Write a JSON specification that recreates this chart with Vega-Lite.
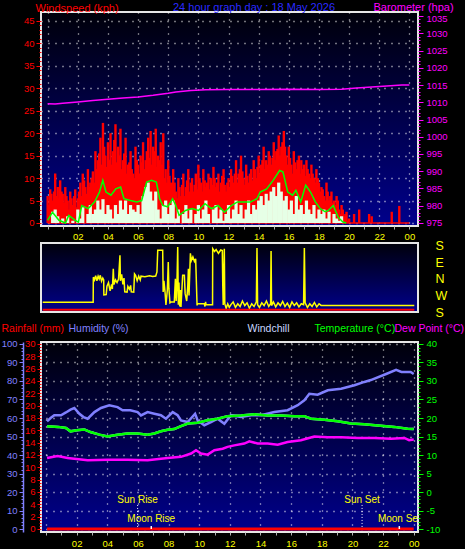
{
  "$schema": "https://vega.github.io/schema/vega-lite/v6.json",
  "background": "black",
  "padding": 0,
  "autosize": {"type": "pad"},
  "spacing": 2,
  "config": {
    "font": "Liberation Sans",
    "view": {"stroke": "#e6e6e6", "strokeWidth": 2, "fill": {"gradient": "linear", "x1": 0, "y1": 0, "x2": 0, "y2": 1, "stops": [{"offset": 0, "color": "#00000a"}, {"offset": 1, "color": "#00008c"}]}},
    "axis": {"labelFont": "Liberation Sans", "titleFont": "Liberation Sans", "titleFontWeight": "normal", "labelFontSize": 9.5, "titleFontSize": 11, "domain": false, "grid": false, "labelOverlap": false, "labelBound": false, "labelFlush": false}
  },
  "datasets": {
    "gust": [
      {"h":0,"kph":6},{"h":0.17,"kph":7.5},{"h":0.33,"kph":5},{"h":0.5,"kph":11},{"h":0.67,"kph":8},{"h":0.83,"kph":9.5},{"h":1,"kph":6.5},{"h":1.17,"kph":8},{"h":1.33,"kph":5},{"h":1.5,"kph":7},{"h":1.67,"kph":4},{"h":1.83,"kph":7.5},
      {"h":2,"kph":5.5},{"h":2.17,"kph":9},{"h":2.33,"kph":11},{"h":2.5,"kph":8},{"h":2.67,"kph":12},{"h":2.83,"kph":9},{"h":3,"kph":11.5},{"h":3.17,"kph":16},{"h":3.33,"kph":14},{"h":3.5,"kph":19},{"h":3.67,"kph":22.3},{"h":3.83,"kph":15},
      {"h":4,"kph":18},{"h":4.17,"kph":20},{"h":4.33,"kph":16},{"h":4.5,"kph":22},{"h":4.67,"kph":17},{"h":4.83,"kph":21},{"h":5,"kph":14},{"h":5.17,"kph":19},{"h":5.33,"kph":13},{"h":5.5,"kph":16},{"h":5.67,"kph":11},{"h":5.83,"kph":17},
      {"h":6,"kph":13},{"h":6.17,"kph":15},{"h":6.33,"kph":18},{"h":6.5,"kph":14},{"h":6.67,"kph":19},{"h":6.83,"kph":20.5},{"h":7,"kph":17},{"h":7.17,"kph":21},{"h":7.33,"kph":15},{"h":7.5,"kph":18},{"h":7.67,"kph":20},{"h":7.83,"kph":12},
      {"h":8,"kph":14},{"h":8.17,"kph":9},{"h":8.33,"kph":12},{"h":8.5,"kph":7},{"h":8.67,"kph":10},{"h":8.83,"kph":6},{"h":9,"kph":11},{"h":9.17,"kph":8},{"h":9.33,"kph":12},{"h":9.5,"kph":9},{"h":9.67,"kph":7},{"h":9.83,"kph":11},
      {"h":10,"kph":13},{"h":10.17,"kph":9},{"h":10.33,"kph":12},{"h":10.5,"kph":8},{"h":10.67,"kph":11},{"h":10.83,"kph":10},{"h":11,"kph":12.5},{"h":11.17,"kph":8},{"h":11.33,"kph":11},{"h":11.5,"kph":9},{"h":11.67,"kph":12},{"h":11.83,"kph":7},
      {"h":12,"kph":10},{"h":12.17,"kph":12},{"h":12.33,"kph":9},{"h":12.5,"kph":14},{"h":12.67,"kph":11},{"h":12.83,"kph":15},{"h":13,"kph":10},{"h":13.17,"kph":13},{"h":13.33,"kph":9},{"h":13.5,"kph":12},{"h":13.67,"kph":14},{"h":13.83,"kph":10},
      {"h":14,"kph":15},{"h":14.17,"kph":13},{"h":14.33,"kph":17},{"h":14.5,"kph":14},{"h":14.67,"kph":16},{"h":14.83,"kph":13},{"h":15,"kph":18},{"h":15.17,"kph":16},{"h":15.33,"kph":19.5},{"h":15.5,"kph":17},{"h":15.67,"kph":20.5},{"h":15.83,"kph":15},
      {"h":16,"kph":17},{"h":16.17,"kph":13},{"h":16.33,"kph":16},{"h":16.5,"kph":12},{"h":16.67,"kph":15},{"h":16.83,"kph":14},{"h":17,"kph":13},{"h":17.17,"kph":14},{"h":17.33,"kph":11},{"h":17.5,"kph":13},{"h":17.67,"kph":10},{"h":17.83,"kph":12},
      {"h":18,"kph":9},{"h":18.17,"kph":8},{"h":18.33,"kph":6},{"h":18.5,"kph":9},{"h":18.67,"kph":5},{"h":18.83,"kph":7},{"h":19,"kph":5},{"h":19.17,"kph":6},{"h":19.33,"kph":3},{"h":19.5,"kph":4},{"h":19.67,"kph":1.5},{"h":19.83,"kph":2.5},
      {"h":20,"kph":1},{"h":20.33,"kph":2},{"h":20.67,"kph":3},{"h":21.33,"kph":2},{"h":21.5,"kph":1.5},{"h":22.83,"kph":2.5},{"h":23.33,"kph":3.8},
      {"h":0.08,"kph":4},{"h":0.25,"kph":6.5},{"h":0.42,"kph":7},{"h":0.58,"kph":6},{"h":0.75,"kph":5.5},{"h":0.92,"kph":7},{"h":1.08,"kph":4.5},{"h":1.25,"kph":6},{"h":1.42,"kph":3},{"h":1.58,"kph":5.5},{"h":1.75,"kph":6},{"h":1.92,"kph":3.5},
      {"h":2.08,"kph":7},{"h":2.25,"kph":6},{"h":2.42,"kph":9.5},{"h":2.58,"kph":6.5},{"h":2.75,"kph":8},{"h":2.92,"kph":10},{"h":3.08,"kph":9},{"h":3.25,"kph":12},{"h":3.42,"kph":15.5},{"h":3.58,"kph":13},{"h":3.75,"kph":17},{"h":3.92,"kph":12.5},
      {"h":4.08,"kph":14},{"h":4.25,"kph":13},{"h":4.42,"kph":18.5},{"h":4.58,"kph":13.5},{"h":4.75,"kph":15},{"h":4.92,"kph":12},{"h":5.08,"kph":15.5},{"h":5.25,"kph":11},{"h":5.42,"kph":13.5},{"h":5.58,"kph":12},{"h":5.75,"kph":10},{"h":5.92,"kph":14},
      {"h":6.08,"kph":11},{"h":6.25,"kph":13.5},{"h":6.42,"kph":12},{"h":6.58,"kph":16},{"h":6.75,"kph":14.5},{"h":6.92,"kph":13},{"h":7.08,"kph":16},{"h":7.25,"kph":12.5},{"h":7.42,"kph":14},{"h":7.58,"kph":13},{"h":7.75,"kph":10},{"h":7.92,"kph":9},
      {"h":8.08,"kph":10.5},{"h":8.25,"kph":7},{"h":8.42,"kph":9},{"h":8.58,"kph":5.5},{"h":8.75,"kph":8},{"h":8.92,"kph":8.5},{"h":9.08,"kph":6},{"h":9.25,"kph":9.5},{"h":9.42,"kph":7},{"h":9.58,"kph":10},{"h":9.75,"kph":8.5},{"h":9.92,"kph":7.5},
      {"h":10.08,"kph":10},{"h":10.25,"kph":7},{"h":10.42,"kph":9.5},{"h":10.58,"kph":9},{"h":10.75,"kph":7.5},{"h":10.92,"kph":8.5},{"h":11.08,"kph":10},{"h":11.25,"kph":9},{"h":11.42,"kph":7},{"h":11.58,"kph":10.5},{"h":11.75,"kph":8.5},{"h":11.92,"kph":9},
      {"h":12.08,"kph":8},{"h":12.25,"kph":10.5},{"h":12.42,"kph":11},{"h":12.58,"kph":9},{"h":12.75,"kph":12},{"h":12.92,"kph":11.5},{"h":13.08,"kph":8.5},{"h":13.25,"kph":10.5},{"h":13.42,"kph":11},{"h":13.58,"kph":9.5},{"h":13.75,"kph":12},{"h":13.92,"kph":12.5},
      {"h":14.08,"kph":11},{"h":14.25,"kph":14},{"h":14.42,"kph":12},{"h":14.58,"kph":13},{"h":14.75,"kph":15},{"h":14.92,"kph":14.5},{"h":15.08,"kph":14},{"h":15.25,"kph":16.5},{"h":15.42,"kph":15},{"h":15.58,"kph":18},{"h":15.75,"kph":17},{"h":15.92,"kph":13},
      {"h":16.08,"kph":14.5},{"h":16.25,"kph":11},{"h":16.42,"kph":13.5},{"h":16.58,"kph":14},{"h":16.75,"kph":11},{"h":16.92,"kph":12},{"h":17.08,"kph":10.5},{"h":17.25,"kph":12},{"h":17.42,"kph":10},{"h":17.58,"kph":11},{"h":17.75,"kph":9},{"h":17.92,"kph":10},
      {"h":18.08,"kph":7},{"h":18.25,"kph":7.5},{"h":18.42,"kph":5},{"h":18.58,"kph":7},{"h":18.75,"kph":6},{"h":18.92,"kph":4.5},{"h":19.08,"kph":4},{"h":19.25,"kph":5},{"h":19.42,"kph":2},{"h":19.58,"kph":3},{"h":19.75,"kph":2},{"h":19.92,"kph":0.5}
    ],
    "gustBase": [{"h":0,"kph":0},{"h":24,"kph":0}],
    "avgBars": [
      {"h":0.33,"kph":2.5},{"h":0.5,"kph":3},{"h":0.67,"kph":1.5},{"h":1,"kph":1},{"h":1.33,"kph":1.5},{"h":1.67,"kph":0.5},
      {"h":2,"kph":3},{"h":2.17,"kph":1},{"h":2.33,"kph":3.5},{"h":2.67,"kph":2},{"h":2.83,"kph":4},{"h":3,"kph":2},{"h":3.17,"kph":3},{"h":3.33,"kph":5},{"h":3.5,"kph":3},{"h":3.67,"kph":5.3},{"h":3.83,"kph":2},
      {"h":4,"kph":4},{"h":4.17,"kph":3},{"h":4.33,"kph":1},{"h":4.5,"kph":4},{"h":4.67,"kph":2},{"h":4.83,"kph":5},{"h":5,"kph":3},{"h":5.17,"kph":5},{"h":5.33,"kph":2},{"h":5.5,"kph":4},{"h":5.67,"kph":3},{"h":5.83,"kph":2.5},
      {"h":6,"kph":4},{"h":6.17,"kph":2},{"h":6.33,"kph":6},{"h":6.5,"kph":8},{"h":6.67,"kph":9},{"h":6.83,"kph":7},{"h":7,"kph":5},{"h":7.17,"kph":7},{"h":7.33,"kph":3},{"h":7.5,"kph":1},{"h":7.67,"kph":4},{"h":7.83,"kph":5},
      {"h":8,"kph":2},{"h":8.17,"kph":4},{"h":8.33,"kph":5},{"h":8.5,"kph":1},{"h":8.67,"kph":3},{"h":9,"kph":2},{"h":9.17,"kph":4},{"h":9.33,"kph":1},{"h":9.5,"kph":3},{"h":9.83,"kph":2},
      {"h":10,"kph":4},{"h":10.17,"kph":1},{"h":10.33,"kph":3},{"h":10.5,"kph":5},{"h":10.67,"kph":2},{"h":11,"kph":3},{"h":11.17,"kph":4},{"h":11.33,"kph":1},{"h":11.5,"kph":3},{"h":11.67,"kph":0.5},{"h":11.83,"kph":2},
      {"h":12,"kph":4},{"h":12.17,"kph":1},{"h":12.33,"kph":3},{"h":12.5,"kph":5},{"h":12.67,"kph":2},{"h":12.83,"kph":4},{"h":13,"kph":1},{"h":13.17,"kph":3},{"h":13.33,"kph":5},{"h":13.5,"kph":2},{"h":13.67,"kph":4},{"h":13.83,"kph":3},
      {"h":14,"kph":5},{"h":14.17,"kph":6},{"h":14.33,"kph":4},{"h":14.5,"kph":6.5},{"h":14.67,"kph":5},{"h":14.83,"kph":7},{"h":15,"kph":8},{"h":15.17,"kph":6},{"h":15.33,"kph":9},{"h":15.5,"kph":7},{"h":15.67,"kph":5},{"h":15.83,"kph":6},
      {"h":16,"kph":3},{"h":16.17,"kph":5},{"h":16.33,"kph":2},{"h":16.5,"kph":6},{"h":16.67,"kph":3},{"h":16.83,"kph":4},{"h":17,"kph":2},{"h":17.17,"kph":5},{"h":17.33,"kph":3},{"h":17.5,"kph":2},{"h":17.67,"kph":4},{"h":17.83,"kph":1},
      {"h":18,"kph":3},{"h":18.17,"kph":2},{"h":18.33,"kph":3},{"h":18.5,"kph":1},{"h":18.67,"kph":2.5},{"h":19,"kph":2},{"h":19.17,"kph":1},{"h":19.33,"kph":0.5},{"h":19.5,"kph":1.5}
    ],
    "avgLine": [
      {"h":0,"kph":0.6},{"h":0.32,"kph":2.4},{"h":0.75,"kph":0.6},{"h":1.18,"kph":0},{"h":1.4,"kph":1.7},{"h":1.83,"kph":0.6},{"h":2.04,"kph":0.2},{"h":2.26,"kph":3.9},{"h":2.69,"kph":3.2},{"h":3.12,"kph":4.7},{"h":3.44,"kph":6.9},{"h":3.66,"kph":9.5},{"h":3.87,"kph":6.9},
      {"h":4.2,"kph":6.2},{"h":4.52,"kph":7.6},{"h":4.84,"kph":8},{"h":5.06,"kph":5.4},{"h":5.49,"kph":5},{"h":5.92,"kph":4.7},{"h":6.24,"kph":5},{"h":6.57,"kph":9.1},{"h":6.89,"kph":9.5},{"h":7.21,"kph":9.1},{"h":7.43,"kph":5.4},{"h":7.64,"kph":3.9},{"h":7.96,"kph":3.6},
      {"h":8.29,"kph":5.4},{"h":8.5,"kph":3.9},{"h":8.72,"kph":1.7},{"h":9.15,"kph":2.8},{"h":9.58,"kph":3.2},{"h":10.01,"kph":2.8},{"h":10.44,"kph":4.3},{"h":10.87,"kph":3.2},{"h":11.3,"kph":3.9},{"h":11.73,"kph":2.4},{"h":12.16,"kph":3.8},{"h":12.59,"kph":4.7},
      {"h":13.03,"kph":4.7},{"h":13.46,"kph":4.7},{"h":13.89,"kph":5.4},{"h":14.1,"kph":6.9},{"h":14.53,"kph":7.6},{"h":14.96,"kph":9.5},{"h":15.39,"kph":11.7},{"h":15.61,"kph":11.4},{"h":15.93,"kph":6.9},{"h":16.25,"kph":6.2},{"h":16.47,"kph":7.3},{"h":16.79,"kph":4.7},
      {"h":17.12,"kph":8.4},{"h":17.44,"kph":6.9},{"h":17.76,"kph":4.7},{"h":18.09,"kph":3.2},{"h":18.41,"kph":2.5},{"h":18.62,"kph":2.8},{"h":18.95,"kph":3.9},{"h":19.27,"kph":1.3},{"h":19.59,"kph":0.2},{"h":19.81,"kph":0}
    ],
    "baro": [
      {"h":0,"hpa":1009.6},{"h":0.5,"hpa":1009.5},{"h":1,"hpa":1009.7},{"h":2,"hpa":1010.1},{"h":3,"hpa":1010.5},{"h":4,"hpa":1010.9},{"h":5,"hpa":1011.2},{"h":6,"hpa":1011.5},{"h":7,"hpa":1012},{"h":8,"hpa":1012.6},{"h":8.5,"hpa":1013},{"h":9.5,"hpa":1013.4},
      {"h":10.5,"hpa":1013.6},{"h":12,"hpa":1013.7},{"h":14,"hpa":1013.7},{"h":16,"hpa":1013.8},{"h":18,"hpa":1013.7},{"h":19.5,"hpa":1013.8},{"h":20.5,"hpa":1014.1},{"h":21.5,"hpa":1014.4},{"h":22.5,"hpa":1014.7},{"h":23.5,"hpa":1015},{"h":24,"hpa":1015}
    ],
    "dir": [
      {"h":0,"dir":53},{"h":3.26,"dir":53},{"h":3.27,"dir":190},{"h":3.35,"dir":175},{"h":3.42,"dir":198},{"h":3.5,"dir":170},{"h":3.58,"dir":195},{"h":3.65,"dir":180},{"h":3.72,"dir":200},{"h":3.8,"dir":168},{"h":3.88,"dir":185},{"h":3.94,"dir":175},
      {"h":3.95,"dir":93},{"h":4.1,"dir":95},{"h":4.15,"dir":140},{"h":4.25,"dir":160},{"h":4.35,"dir":115},{"h":4.45,"dir":150},{"h":4.5,"dir":125},{"h":4.56,"dir":236},{"h":4.6,"dir":150},{"h":4.7,"dir":175},{"h":4.8,"dir":160},{"h":4.9,"dir":180},
      {"h":4.99,"dir":309},{"h":5.02,"dir":170},{"h":5.1,"dir":205},{"h":5.18,"dir":150},{"h":5.25,"dir":185},{"h":5.3,"dir":110},{"h":5.45,"dir":108},{"h":5.5,"dir":140},{"h":5.6,"dir":125},{"h":5.68,"dir":145},{"h":5.72,"dir":110},{"h":5.88,"dir":108},
      {"h":5.93,"dir":208},{"h":6,"dir":200},{"h":6.1,"dir":170},{"h":6.2,"dir":195},{"h":6.3,"dir":175},{"h":6.35,"dir":195},{"h":6.6,"dir":192},{"h":6.9,"dir":198},{"h":7.1,"dir":193},{"h":7.3,"dir":196},{"h":7.38,"dir":218},{"h":7.43,"dir":336},
      {"h":7.75,"dir":336},{"h":7.78,"dir":109},{"h":7.83,"dir":170},{"h":7.9,"dir":110},{"h":7.96,"dir":38},{"h":8.05,"dir":120},{"h":8.11,"dir":272},{"h":8.15,"dir":130},{"h":8.22,"dir":50},{"h":8.28,"dir":54},{"h":8.5,"dir":54},{"h":8.57,"dir":181},
      {"h":8.62,"dir":60},{"h":8.67,"dir":150},{"h":8.72,"dir":354},{"h":8.76,"dir":40},{"h":8.8,"dir":160},{"h":8.85,"dir":30},{"h":8.9,"dir":120},{"h":8.93,"dir":27},{"h":9.04,"dir":200},{"h":9.15,"dir":200},{"h":9.2,"dir":100},{"h":9.3,"dir":60},
      {"h":9.37,"dir":140},{"h":9.41,"dir":236},{"h":9.45,"dir":90},{"h":9.54,"dir":320},{"h":9.6,"dir":280},{"h":9.7,"dir":300},{"h":9.8,"dir":275},{"h":9.88,"dir":290},{"h":9.9,"dir":236},{"h":9.97,"dir":36},{"h":10,"dir":45},{"h":10.44,"dir":45},
      {"h":10.48,"dir":30},{"h":10.52,"dir":55},{"h":10.55,"dir":40},{"h":10.97,"dir":40},{"h":10.98,"dir":345},{"h":11.1,"dir":330},{"h":11.2,"dir":340},{"h":11.35,"dir":320},{"h":11.5,"dir":338},{"h":11.6,"dir":335},{"h":11.63,"dir":147},{"h":11.66,"dir":38},
      {"h":11.73,"dir":345},{"h":11.76,"dir":45},{"h":11.85,"dir":20},{"h":11.95,"dir":45},{"h":12.05,"dir":25},{"h":12.16,"dir":40},{"h":12.3,"dir":55},{"h":12.45,"dir":25},{"h":12.6,"dir":45},{"h":12.75,"dir":30},{"h":12.9,"dir":60},{"h":13.05,"dir":35},
      {"h":13.2,"dir":50},{"h":13.35,"dir":20},{"h":13.5,"dir":45},{"h":13.65,"dir":30},{"h":13.8,"dir":55},{"h":13.84,"dir":349},{"h":13.88,"dir":40},{"h":14,"dir":25},{"h":14.15,"dir":50},{"h":14.3,"dir":35},{"h":14.45,"dir":60},{"h":14.6,"dir":30},
      {"h":14.72,"dir":45},{"h":14.75,"dir":332},{"h":14.78,"dir":35},{"h":14.9,"dir":55},{"h":15.05,"dir":28},{"h":15.2,"dir":50},{"h":15.35,"dir":35},{"h":15.5,"dir":58},{"h":15.65,"dir":30},{"h":15.8,"dir":48},{"h":15.95,"dir":25},{"h":16.1,"dir":55},
      {"h":16.25,"dir":35},{"h":16.4,"dir":50},{"h":16.55,"dir":28},{"h":16.7,"dir":45},{"h":16.85,"dir":40},{"h":16.9,"dir":349},{"h":16.95,"dir":50},{"h":17.1,"dir":25},{"h":17.25,"dir":45},{"h":17.4,"dir":30},{"h":17.55,"dir":52},{"h":17.7,"dir":28},
      {"h":17.85,"dir":45},{"h":17.98,"dir":36},{"h":24,"dir":36}
    ],
    "dirRed": [{"h":0,"dir":12},{"h":24,"dir":12}],
    "rain": [{"h":0.07,"mm":0},{"h":24,"mm":0}],
    "hum": [
      {"h":0.07,"pct":58.2},{"h":0.3,"pct":60},{"h":0.54,"pct":61.5},{"h":0.98,"pct":61.5},{"h":1.3,"pct":63},{"h":1.6,"pct":64.5},{"h":1.85,"pct":65.4},{"h":2.18,"pct":62.3},{"h":2.45,"pct":60.5},{"h":2.72,"pct":59.6},{"h":3.16,"pct":63.2},{"h":3.59,"pct":65.4},
      {"h":4.13,"pct":66.9},{"h":4.67,"pct":65.9},{"h":5,"pct":64.2},{"h":5.5,"pct":64.2},{"h":5.98,"pct":63.2},{"h":6.2,"pct":61.4},{"h":6.63,"pct":63.2},{"h":7.07,"pct":62.3},{"h":7.5,"pct":61.5},{"h":7.83,"pct":59.6},{"h":8.27,"pct":63.2},{"h":8.59,"pct":61.5},
      {"h":8.81,"pct":58.7},{"h":9.25,"pct":57.8},{"h":9.73,"pct":62.3},{"h":9.9,"pct":58.7},{"h":10.33,"pct":56.1},{"h":10.77,"pct":57.8},{"h":11.2,"pct":59.6},{"h":11.64,"pct":56.9},{"h":12.07,"pct":61.5},{"h":12.73,"pct":60.5},{"h":13.38,"pct":61.5},{"h":14.04,"pct":61.5},
      {"h":14.9,"pct":63.2},{"h":15.77,"pct":64.2},{"h":16.43,"pct":66.9},{"h":16.86,"pct":69.6},{"h":17.19,"pct":73.1},{"h":17.73,"pct":72.6},{"h":18.39,"pct":75},{"h":19.26,"pct":75.8},{"h":20.13,"pct":77.7},{"h":20.78,"pct":79.5},{"h":21.2,"pct":80.5},{"h":22.2,"pct":83.8},
      {"h":22.85,"pct":86},{"h":23.2,"pct":84.9},{"h":23.8,"pct":84.9},{"h":24,"pct":83.8}
    ],
    "temp": [
      {"h":0.07,"c":17.8},{"h":0.8,"c":17.6},{"h":1.3,"c":17.3},{"h":1.6,"c":16.4},{"h":2,"c":16.7},{"h":2.5,"c":16.9},{"h":2.9,"c":16.2},{"h":3.48,"c":15.5},{"h":4.02,"c":15},{"h":4.67,"c":15.5},{"h":5.32,"c":15.8},{"h":5.98,"c":15.8},
      {"h":6.63,"c":15.5},{"h":7.07,"c":15.8},{"h":7.5,"c":16.4},{"h":7.94,"c":16.8},{"h":8.37,"c":17},{"h":8.81,"c":17.8},{"h":9.25,"c":18.5},{"h":9.9,"c":18.7},{"h":10.55,"c":19.4},{"h":11.2,"c":19.8},{"h":11.85,"c":20.5},{"h":12.73,"c":20.7},
      {"h":13.6,"c":21},{"h":14.47,"c":20.7},{"h":15.34,"c":20.7},{"h":16.21,"c":20.5},{"h":16.86,"c":20.5},{"h":17.3,"c":19.8},{"h":18.17,"c":19.5},{"h":19.04,"c":19.1},{"h":19.91,"c":18.5},{"h":20.78,"c":18.3},{"h":21.65,"c":18},{"h":22.73,"c":17.6},
      {"h":23.6,"c":17.1},{"h":24,"c":17}
    ],
    "dew": [
      {"h":0.07,"c":9.2},{"h":0.76,"c":9.7},{"h":1.41,"c":9.2},{"h":2.72,"c":8.6},{"h":4.02,"c":8.7},{"h":5.32,"c":8.7},{"h":6.63,"c":8.6},{"h":7.94,"c":9.2},{"h":8.81,"c":9.5},{"h":9.47,"c":10.4},{"h":9.79,"c":11.3},{"h":10.12,"c":10.4},
      {"h":10.55,"c":10.1},{"h":10.99,"c":11.3},{"h":11.53,"c":11.7},{"h":11.85,"c":12.2},{"h":12.29,"c":12.6},{"h":12.94,"c":13.1},{"h":13.27,"c":13.7},{"h":13.81,"c":13.1},{"h":14.47,"c":13.1},{"h":15.12,"c":12.8},{"h":15.77,"c":13.5},{"h":16.64,"c":14},
      {"h":17.51,"c":15},{"h":18.39,"c":14.8},{"h":19.26,"c":14.8},{"h":20.35,"c":14.6},{"h":21.43,"c":14.6},{"h":22.52,"c":14.4},{"h":23.39,"c":14.6},{"h":23.7,"c":14},{"h":24,"c":14.2}
    ],
    "events": [
      {"event":"Sun Rise","h":5.98,"kind":"sun"},
      {"event":"Sun Set","h":20.63,"kind":"sun"},
      {"event":"Moon Rise","h":6.87,"kind":"moon"},
      {"event":"Moon Set","h":23.06,"kind":"moon"}
    ]
  },
  "vconcat": [
    {
      "bounds": "flush",
      "spacing": 17,
      "vconcat": [
        {
          "width": 377,
          "height": 214,
          "title": {"text": "24 hour graph day : 18 May 2026", "color": "#2a2aff", "fontSize": 11, "font": "Liberation Sans", "fontWeight": "normal", "anchor": "start", "frame": "group", "dx": 132, "offset": -12},
          "layer": [
            {
              "layer": [
                {
                  "data": {"name": "gust"},
                  "mark": {"type": "bar", "color": "#ff0000", "width": 2.4},
                  "encoding": {
                    "x": {"field": "h", "type": "quantitative", "scale": {"domain": [-0.11, 24.24], "nice": false, "zero": false},
                      "axis": {"values": [0,1,2,3,4,5,6,7,8,9,10,11,12,13,14,15,16,17,18,19,20,21,22,23,24], "tickCount": 200, "labelExpr": "datum.value > 0 && datum.value % 2 == 0 ? (datum.value % 24 < 10 ? '0' + (datum.value % 24) : '' + datum.value) : ''", "labelOverlap": false, "labelColor": "#ffff00", "labelPadding": 2, "tickSize": 3, "tickColor": "#b0b0b0", "grid": true, "gridColor": "#ffffff", "gridDash": [1, 6], "gridWidth": 1.3, "gridOpacity": {"condition": {"test": "datum.value % 2 != 0", "value": 0}, "value": 0.9}, "title": null}},
                    "y": {"field": "kph", "type": "quantitative", "scale": {"domain": [-0.67, 47], "nice": false, "zero": false},
                      "axis": {"orient": "left", "values": [0,1,2,3,4,5,6,7,8,9,10,11,12,13,14,15,16,17,18,19,20,21,22,23,24,25,26,27,28,29,30,31,32,33,34,35,36,37,38,39,40,41,42,43,44,45], "tickCount": 200, "labelExpr": "datum.value % 5 == 0 ? datum.value : ''", "labelOverlap": false, "labelColor": "#ff0000", "labelPadding": 2, "tickColor": "#ff0000", "tickSize": {"condition": {"test": "datum.value % 5 != 0", "value": 2}, "value": 5}, "grid": true, "gridColor": "#ffffff", "gridDash": [1, 6], "gridWidth": 1.3, "gridOpacity": {"condition": {"test": "datum.value % 5 != 0", "value": 0}, "value": 0.9},
                        "title": "Windspeed (kph)", "titleColor": "#ff0000", "titleAngle": 0, "titleAlign": "left", "titleBaseline": "middle", "titleX": -6, "titleY": -4}},
                    "y2": {"datum": 0}
                  }
                },
                {
                  "data": {"name": "gustBase"},
                  "mark": {"type": "line", "color": "#ff0000", "strokeWidth": 1.5},
                  "encoding": {"x": {"field": "h", "type": "quantitative"}, "y": {"field": "kph", "type": "quantitative"}}
                },
                {
                  "data": {"name": "avgBars"},
                  "mark": {"type": "bar", "color": "#e6ffe6", "width": 3.2},
                  "encoding": {"x": {"field": "h", "type": "quantitative"}, "y": {"field": "kph", "type": "quantitative"}, "y2": {"datum": 0}}
                },
                {
                  "data": {"name": "avgLine"},
                  "mark": {"type": "line", "color": "#00ff00", "strokeWidth": 1.5},
                  "encoding": {"x": {"field": "h", "type": "quantitative"}, "y": {"field": "kph", "type": "quantitative"}}
                }
              ]
            },
            {
              "data": {"name": "baro"},
              "mark": {"type": "line", "color": "#ff00ff", "strokeWidth": 1.5},
              "encoding": {
                "x": {"field": "h", "type": "quantitative"},
                "y": {"field": "hpa", "type": "quantitative", "scale": {"domain": [974.13, 1036.16], "nice": false, "zero": false},
                  "axis": {"orient": "right", "values": [975,976,977,978,979,980,981,982,983,984,985,986,987,988,989,990,991,992,993,994,995,996,997,998,999,1000,1001,1002,1003,1004,1005,1006,1007,1008,1009,1010,1011,1012,1013,1014,1015,1016,1017,1018,1019,1020,1021,1022,1023,1024,1025,1026,1027,1028,1029,1030,1031,1032,1033,1034,1035], "tickCount": 200, "labelExpr": "datum.value % 5 == 0 ? datum.value : ''", "labelOverlap": false, "labelColor": "#ff00ff", "labelPadding": 3, "labelOffset": {"condition": {"test": "datum.value == 1035", "value": 2.5}, "value": 0}, "tickColor": "#ff00ff", "tickSize": {"condition": {"test": "datum.value % 5 != 0", "value": 2}, "value": 5},
                    "title": "Barometer (hpa)", "titleColor": "#ff00ff", "titleAngle": 0, "titleAlign": "left", "titleBaseline": "middle", "titleX": -45, "titleY": -5}}
              }
            }
          ],
          "resolve": {"scale": {"y": "independent"}}
        },
        {
          "width": 377,
          "height": 69,
          "layer": [
            {
              "data": {"name": "dir"},
              "mark": {"type": "line", "color": "#ffff00", "strokeWidth": 1.5},
              "encoding": {
                "x": {"field": "h", "type": "quantitative", "scale": {"domain": [-0.11, 24.24], "nice": false, "zero": false}, "axis": null},
                "y": {"field": "dir", "type": "quantitative", "scale": {"domain": [0, 376], "nice": false, "zero": false},
                  "axis": {"orient": "right", "values": [0, 90, 180, 270, 360], "tickCount": 200, "labelExpr": "datum.value == 90 ? 'W' : datum.value == 180 ? 'N' : datum.value == 270 ? 'E' : 'S'", "labelOverlap": false, "labelColor": "#ffff00", "labelFontSize": 12.5, "labelPadding": 17, "ticks": false, "title": null}}
              }
            },
            {
              "data": {"name": "dirRed"},
              "mark": {"type": "line", "color": "#ff0000", "strokeWidth": 2},
              "encoding": {"x": {"field": "h", "type": "quantitative"}, "y": {"field": "dir", "type": "quantitative"}}
            }
          ]
        }
      ]
    },
    {
      "width": 377,
      "height": 190,
      "layer": [
        {
          "data": {"name": "rain"},
          "mark": {"type": "line", "color": "#ff0000", "strokeWidth": 3},
          "encoding": {
            "x": {"field": "h", "type": "quantitative", "scale": {"domain": [-0.326, 24.28], "nice": false, "zero": false},
              "axis": {"values": [0,1,2,3,4,5,6,7,8,9,10,11,12,13,14,15,16,17,18,19,20,21,22,23,24], "tickCount": 200, "labelExpr": "datum.value > 0 && datum.value % 2 == 0 ? (datum.value % 24 < 10 ? '0' + (datum.value % 24) : '' + datum.value) : ''", "labelOverlap": false, "labelColor": "#ffff00", "labelPadding": 3, "tickSize": 3, "tickColor": "#b0b0b0", "grid": true, "gridColor": "#ffffff", "gridDash": [1, 6], "gridWidth": 1.3, "gridOpacity": {"condition": {"test": "datum.value % 2 != 0", "value": 0}, "value": 0.9}, "title": null}},
            "y": {"field": "mm", "type": "quantitative", "scale": {"domain": [-0.49, 30.32], "nice": false, "zero": false},
              "axis": {"orient": "left", "values": [0,0.5,1,1.5,2,2.5,3,3.5,4,4.5,5,5.5,6,6.5,7,7.5,8,8.5,9,9.5,10,10.5,11,11.5,12,12.5,13,13.5,14,14.5,15,15.5,16,16.5,17,17.5,18,18.5,19,19.5,20,20.5,21,21.5,22,22.5,23,23.5,24,24.5,25,25.5,26,26.5,27,27.5,28,28.5,29,29.5,30], "tickCount": 200, "labelExpr": "datum.value % 2 == 0 ? datum.value : ''", "labelOverlap": false, "labelColor": "#ff0000", "labelPadding": 2, "tickColor": "#ff0000", "tickSize": {"condition": {"test": "datum.value % 2 != 0", "value": 2}, "value": 4},
                "title": "Rainfall (mm)", "titleColor": "#ff0000", "titleFontSize": 10.5, "titleAngle": 0, "titleAlign": "left", "titleBaseline": "middle", "titleX": -40, "titleY": -14}}
          }
        },
        {
          "data": {"name": "hum"},
          "mark": {"type": "line", "color": "#8080ff", "strokeWidth": 2.5},
          "encoding": {
            "x": {"field": "h", "type": "quantitative"},
            "y": {"field": "pct", "type": "quantitative", "scale": {"domain": [-1.62, 101.08], "nice": false, "zero": false},
              "axis": {"orient": "left", "offset": 18, "domain": true, "domainColor": "#8080ff", "domainWidth": 1.5, "values": [0,2,4,6,8,10,12,14,16,18,20,22,24,26,28,30,32,34,36,38,40,42,44,46,48,50,52,54,56,58,60,62,64,66,68,70,72,74,76,78,80,82,84,86,88,90,92,94,96,98,100], "tickCount": 200, "labelExpr": "datum.value % 10 == 0 ? datum.value : ''", "labelOverlap": false, "labelColor": "#8080ff", "labelPadding": 2, "tickColor": "#8080ff", "tickSize": {"condition": {"test": "datum.value % 10 != 0", "value": 2}, "value": 4},
                "title": "Humidity (%)", "titleColor": "#8080ff", "titleFontSize": 10.5, "titleAngle": 0, "titleAlign": "left", "titleBaseline": "middle", "titleX": 45, "titleY": -14}}
          }
        },
        {
          "data": {"name": "temp"},
          "mark": {"type": "line", "color": "#c8d8ff", "strokeWidth": 2.5},
          "encoding": {
            "x": {"field": "h", "type": "quantitative"},
            "y": {"field": "c", "type": "quantitative", "scale": {"domain": [-10.81, 40.54], "nice": false, "zero": false},
              "axis": {"orient": "right", "labels": false, "ticks": false, "title": "Windchill", "titleColor": "#c8d8ff", "titleFontSize": 10.5, "titleAngle": 0, "titleAlign": "left", "titleBaseline": "middle", "titleX": -171, "titleY": -14}}
          }
        },
        {
          "layer": [
            {
              "data": {"name": "temp"},
              "mark": {"type": "line", "color": "#00ff00", "strokeWidth": 2.5},
              "encoding": {
                "x": {"field": "h", "type": "quantitative"},
                "y": {"field": "c", "type": "quantitative", "scale": {"domain": [-10.81, 40.54], "nice": false, "zero": false},
                  "axis": {"orient": "right", "values": [-10,-9,-8,-7,-6,-5,-4,-3,-2,-1,0,1,2,3,4,5,6,7,8,9,10,11,12,13,14,15,16,17,18,19,20,21,22,23,24,25,26,27,28,29,30,31,32,33,34,35,36,37,38,39,40], "tickCount": 200, "labelExpr": "datum.value % 5 == 0 ? datum.value : ''", "labelOverlap": false, "labelColor": "#00ff00", "labelPadding": 3, "tickColor": "#00ff00", "tickSize": {"condition": {"test": "datum.value % 5 != 0", "value": 2}, "value": 5}, "grid": true, "gridColor": "#ffffff", "gridDash": [1, 6], "gridWidth": 1.3, "gridOpacity": {"condition": {"test": "datum.value % 5 != 0", "value": 0}, "value": 0.9},
                    "title": "Temperature (°C)", "titleColor": "#00ff00", "titleFontSize": 10.5, "titleAngle": 0, "titleAlign": "left", "titleBaseline": "middle", "titleX": -104, "titleY": -14}}
              }
            },
            {
              "data": {"name": "events"},
              "transform": [{"filter": "datum.kind == 'sun'"}],
              "mark": {"type": "rule", "color": "#ffffff", "strokeDash": [1, 2], "strokeWidth": 1},
              "encoding": {"x": {"field": "h", "type": "quantitative"}, "y": {"datum": -3.5}, "y2": {"datum": -10}}
            },
            {
              "data": {"name": "events"},
              "transform": [{"filter": "datum.kind == 'moon'"}],
              "mark": {"type": "rule", "color": "#ffffff", "strokeWidth": 1.5},
              "encoding": {"x": {"field": "h", "type": "quantitative"}, "y": {"datum": -9.2}, "y2": {"datum": -10}}
            },
            {
              "data": {"name": "events"},
              "transform": [{"filter": "datum.kind == 'sun'"}],
              "mark": {"type": "text", "color": "#ffff00", "fontSize": 10, "baseline": "middle", "align": "center"},
              "encoding": {"x": {"field": "h", "type": "quantitative"}, "y": {"datum": -2.1}, "text": {"field": "event"}}
            },
            {
              "data": {"name": "events"},
              "transform": [{"filter": "datum.kind == 'moon'"}],
              "mark": {"type": "text", "color": "#ffff00", "fontSize": 10, "baseline": "middle", "align": "center", "clip": true},
              "encoding": {"x": {"field": "h", "type": "quantitative"}, "y": {"datum": -7.2}, "text": {"field": "event"}}
            }
          ]
        },
        {
          "data": {"name": "dew"},
          "mark": {"type": "line", "color": "#ff00ff", "strokeWidth": 2.5},
          "encoding": {
            "x": {"field": "h", "type": "quantitative"},
            "y": {"field": "c", "type": "quantitative", "scale": {"domain": [-10.81, 40.54], "nice": false, "zero": false},
              "axis": {"orient": "right", "labels": false, "ticks": false, "title": "Dew Point (°C)", "titleColor": "#ff00ff", "titleFontSize": 10.5, "titleAngle": 0, "titleAlign": "left", "titleBaseline": "middle", "titleX": -24, "titleY": -14}}
          }
        }
      ],
      "resolve": {"scale": {"y": "independent"}}
    }
  ]
}
